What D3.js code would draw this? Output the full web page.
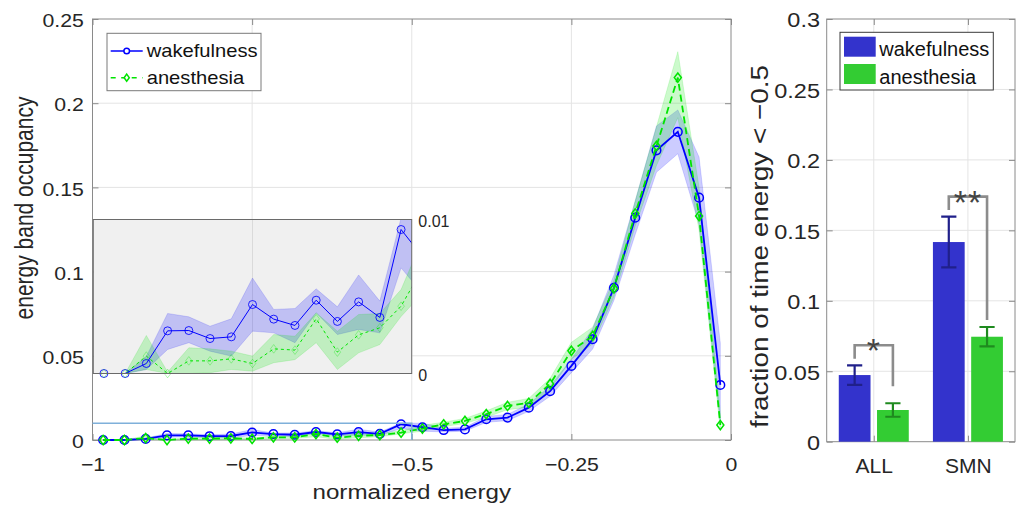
<!DOCTYPE html>
<html><head><meta charset="utf-8">
<script src="https://cdn.jsdelivr.net/npm/d3@7/dist/d3.min.js"></script>
<style>
body{margin:0;background:#fff;}
svg{display:block;}
</style></head><body>
<svg id="chart" width="1022" height="505"></svg>
<script>
// ---------------- data ----------------
const energyBins = [-0.9833, -0.95, -0.9167, -0.8833, -0.85, -0.8167, -0.7833, -0.75, -0.7167, -0.6833,
  -0.65, -0.6167, -0.5833, -0.55, -0.5167, -0.4833, -0.45, -0.4167, -0.3833, -0.35,
  -0.3167, -0.2833, -0.25, -0.2167, -0.1833, -0.15, -0.1167, -0.0833, -0.05, -0.0167];
const wakeMean = [0, 0, 0.00065, 0.00277, 0.00279, 0.00227, 0.00238, 0.00448, 0.00353, 0.00312,
  0.00476, 0.00338, 0.00465, 0.00364, 0.00935, 0.0076, 0.0059, 0.0063, 0.0123, 0.0133,
  0.0192, 0.029, 0.044, 0.0598, 0.0904, 0.132, 0.172, 0.183, 0.1439, 0.0327];
const wakeLow = [0, 0, 0.00026, 0.00156, 0.0020, 0.00145, 0.00113, 0.00275, 0.00264, 0.0020,
  0.00394, 0.00253, 0.00286, 0.00264, 0.00686, 0.0052, 0.0048, 0.0052, 0.0105, 0.0115,
  0.0170, 0.0260, 0.0400, 0.0540, 0.0830, 0.1220, 0.1590, 0.1700, 0.1280, 0.0100];
const wakeHigh = [0, 0, 0.0011, 0.0039, 0.00368, 0.00307, 0.00355, 0.0062, 0.00416, 0.00422,
  0.0055, 0.00433, 0.0064, 0.0047, 0.0101, 0.0100, 0.0070, 0.0075, 0.0140, 0.0152,
  0.0214, 0.0320, 0.0480, 0.0660, 0.0980, 0.1420, 0.1865, 0.1960, 0.1680, 0.0575];
const anesMean = [0, 0, 0.00113, 0, 0.00082, 0.00082, 0.00095, 0.00065, 0.0016, 0.00152,
  0.00355, 0.00139, 0.00251, 0.00297, 0.00437, 0.0068, 0.0093, 0.0113, 0.0154, 0.0202,
  0.0221, 0.0333, 0.053, 0.0618, 0.090, 0.1345, 0.1746, 0.2152, 0.133, 0.0089];
const anesLow = [0, 0, 0.00026, 0, 0, 0.00005, 0.00026, 0.00015, 0.0007, 0.0009,
  0.0020, 0.00026, 0.00134, 0.00188, 0.0037, 0.0052, 0.0080, 0.0098, 0.0135, 0.0180,
  0.0195, 0.0300, 0.0480, 0.0570, 0.0850, 0.1270, 0.1630, 0.1914, 0.1247, 0.0060];
const anesHigh = [0, 0, 0.00247, 0.0001, 0.00167, 0.0016, 0.00145, 0.00113, 0.00253, 0.00242,
  0.00394, 0.00275, 0.00383, 0.0039, 0.00545, 0.0087, 0.0106, 0.0128, 0.0173, 0.0224,
  0.0247, 0.0366, 0.0580, 0.0670, 0.0950, 0.1420, 0.1860, 0.2306, 0.1500, 0.0160];

const seriesNames = ["wakefulness", "anesthesia"];
const mainXTicks = [-1, -0.75, -0.5, -0.25, 0];
const mainYTicks = [0, 0.05, 0.1, 0.15, 0.2, 0.25];
const insetXDomain = [-1, -0.5];
const insetYTicks = [0, 0.01];

const groups = ["ALL", "SMN"];
const barWakeMean = [0.0473, 0.1417];
const barWakeSem = [0.0069, 0.0180];
const barAnesMean = [0.0225, 0.0745];
const barAnesSem = [0.0048, 0.0069];
const sigLabels = ["*", "**"];
const barYTicks = [0, 0.05, 0.1, 0.15, 0.2, 0.25, 0.3];

// ---------------- style ----------------
const FONT = '"Liberation Sans", Arial, Helvetica, sans-serif';
const C = {wake: "#0000ff", anes: "#00e400", axis: "#8a8a8a", text: "#262626", grid: "#e4e4e4",
  barWake: "#3333cc", barAnes: "#33cc33", errWake: "#20208a", errAnes: "#1f8a1f"};
const SX = 1.15;
const fmtNum = d => d < 0 ? "\u2212" + String(Math.abs(d)) : String(d);

const svg = d3.select("#chart").attr("font-family", FONT);

// ---------------- main plot ----------------
const xM = d3.scaleLinear().domain([-1, 0]).range([92.5, 731]);
const yM = d3.scaleLinear().domain([0, 0.25]).range([440, 19]);

function styleAxis(sel, fs) {
  sel.attr("font-family", FONT).attr("font-size", fs);
  sel.select(".domain").remove();
  sel.selectAll(".tick line").attr("stroke", C.axis);
  sel.selectAll(".tick text").attr("fill", C.text);
}

const gM = svg.append("g");
gM.append("g").selectAll("line").data(mainXTicks.slice(1, -1)).join("line")
  .attr("x1", d => xM(d)).attr("x2", d => xM(d)).attr("y1", yM(0)).attr("y2", yM(0.25))
  .attr("stroke", C.grid);
gM.append("g").selectAll("line").data(mainYTicks.slice(1, -1)).join("line")
  .attr("y1", d => yM(d)).attr("y2", d => yM(d)).attr("x1", xM(-1)).attr("x2", xM(0))
  .attr("stroke", C.grid);

const axMB = gM.append("g").attr("transform", `translate(0,${yM(0)})`)
  .call(d3.axisBottom(xM).tickValues(mainXTicks).tickSize(-6).tickSizeOuter(0).tickPadding(18.3).tickFormat(fmtNum));
styleAxis(axMB, 18.5);
axMB.selectAll(".tick text").attr("transform", `scale(${SX},1)`);
const axML = gM.append("g").attr("transform", `translate(${xM(-1)},0)`)
  .call(d3.axisLeft(yM).tickValues(mainYTicks).tickSize(-6).tickSizeOuter(0).tickPadding(8.7 / SX).tickFormat(fmtNum));
styleAxis(axML, 18.5);
axML.selectAll(".tick text").attr("dy", "0.42em").attr("transform", `scale(${SX},1)`);
const axMT = gM.append("g").attr("transform", `translate(0,${yM(0.25)})`)
  .call(d3.axisTop(xM).tickValues(mainXTicks).tickSize(-6).tickSizeOuter(0).tickFormat(""));
styleAxis(axMT, 10);
const axMR = gM.append("g").attr("transform", `translate(${xM(0)},0)`)
  .call(d3.axisRight(yM).tickValues(mainYTicks).tickSize(-6).tickSizeOuter(0).tickFormat(""));
styleAxis(axMR, 10);
gM.append("rect").attr("x", xM(-1)).attr("y", yM(0.25)).attr("width", xM(0) - xM(-1))
  .attr("height", yM(0) - yM(0.25)).attr("fill", "none").attr("stroke", C.axis);

const series = [
  {name: seriesNames[0], mean: wakeMean, low: wakeLow, high: wakeHigh, color: C.wake, marker: "circle", dash: null},
  {name: seriesNames[1], mean: anesMean, low: anesLow, high: anesHigh, color: C.anes, marker: "diamond", dash: true}
];
const diamond = (w, h) => `M0,${-h}L${w},0L0,${h}L${-w},0Z`;

function drawBands(g, x, y) {
  series.forEach(s => {
    const area = d3.area().x((d, i) => x(energyBins[i])).y0((d, i) => y(s.low[i])).y1((d, i) => y(s.high[i]));
    g.append("path").datum(s.mean).attr("d", area).attr("fill", s.color).attr("fill-opacity", 0.2)
      .attr("stroke", s.color).attr("stroke-opacity", 0.18).attr("stroke-width", 0.8);
  });
}
function drawLine(g, x, y, s, lw, dash) {
  const line = d3.line().x((d, i) => x(energyBins[i])).y(d => y(d));
  g.append("path").datum(s.mean).attr("d", line).attr("fill", "none").attr("stroke", s.color)
    .attr("stroke-width", lw).attr("stroke-dasharray", s.dash ? dash : null);
}
function drawMarkers(g, x, y, s, r, lw, op, filter) {
  const pts = s.mean.map((v, i) => [energyBins[i], v]).filter(filter || (() => true));
  if (s.marker === "circle") {
    g.append("g").selectAll("circle").data(pts).join("circle")
      .attr("cx", d => x(d[0])).attr("cy", d => y(d[1])).attr("r", r)
      .attr("fill", "none").attr("stroke", s.color).attr("stroke-width", lw).attr("stroke-opacity", op);
  } else {
    g.append("g").selectAll("path").data(pts).join("path")
      .attr("transform", d => `translate(${x(d[0])},${y(d[1])})`).attr("d", diamond(r * 0.82, r * 1.08))
      .attr("fill", "none").attr("stroke", s.color).attr("stroke-width", lw).attr("stroke-opacity", op);
  }
}

const gData = gM.append("g");
drawBands(gData, xM, yM);
series.forEach(s => { drawLine(gData, xM, yM, s, 1.8, "7,4"); drawMarkers(gData, xM, yM, s, 4.3, 1.5, 1); });

// zoom-region outline
gM.append("path")
  .attr("d", `M${xM(insetXDomain[0])},${yM(insetYTicks[1])}H${xM(insetXDomain[1])}V${yM(0)}`)
  .attr("fill", "none").attr("stroke", "#7fb0da").attr("stroke-width", 1.5);

// ---------------- inset ----------------
const xI = d3.scaleLinear().domain(insetXDomain).range([93.3, 411.7]);
const yI = d3.scaleLinear().domain([insetYTicks[0], insetYTicks[1]]).range([373.5, 219.5]);
const gI = svg.append("g");
gI.append("rect").attr("x", xI(-1)).attr("y", yI(0.01)).attr("width", xI(-0.5) - xI(-1))
  .attr("height", yI(0) - yI(0.01)).attr("fill", "#f0f0f0");
gI.append("line").attr("x1", xI(-0.75)).attr("x2", xI(-0.75)).attr("y1", yI(0)).attr("y2", yI(0.01))
  .attr("stroke", "#dadada");
svg.append("clipPath").attr("id", "insetClip").append("rect")
  .attr("x", xI(-1)).attr("y", yI(0.01)).attr("width", xI(-0.5) - xI(-1)).attr("height", yI(0) - yI(0.01));
const gIc = gI.append("g").attr("clip-path", "url(#insetClip)");
drawBands(gIc, xI, yI);
series.forEach(s => drawLine(gIc, xI, yI, s, 1, "3,3"));
const inDom = d => d[0] <= -0.5 && d[1] <= 0.01;
drawMarkers(gI, xI, yI, series[0], 4, 1, 0.85, inDom);
drawMarkers(gI, xI, yI, series[1], 4, 1, 0.3, inDom);
gI.append("rect").attr("x", xI(-1)).attr("y", yI(0.01)).attr("width", xI(-0.5) - xI(-1))
  .attr("height", yI(0) - yI(0.01)).attr("fill", "none").attr("stroke", "#6a6a6a");
const axIR = gI.append("g").attr("transform", `translate(${xI(-0.5)},0)`)
  .call(d3.axisRight(yI).tickValues(insetYTicks).tickSize(0).tickPadding(6.6).tickFormat(fmtNum));
styleAxis(axIR, 16);
axIR.selectAll(".tick text").attr("dy", "0.45em");

// ---------------- main legend ----------------
const gL = svg.append("g");
gL.append("rect").attr("x", 107).attr("y", 33.3).attr("width", 154).attr("height", 57.4)
  .attr("fill", "#fff").attr("stroke", "#7a7a7a");
series.forEach((s, i) => {
  const ly = 51 + i * 26.7;
  gL.append("line").attr("x1", 110.7).attr("x2", 142.7).attr("y1", ly).attr("y2", ly)
    .attr("stroke", s.color).attr("stroke-width", 1.5).attr("stroke-dasharray", s.dash ? "5,5.5" : null);
  if (s.marker === "circle") {
    gL.append("circle").attr("cx", 126.7).attr("cy", ly).attr("r", 2.8).attr("fill", "#fff")
      .attr("stroke", s.color).attr("stroke-width", 1.5);
  } else {
    gL.append("path").attr("transform", `translate(126.7,${ly})`).attr("d", diamond(2.6, 3.6))
      .attr("fill", "#fff").attr("stroke", s.color).attr("stroke-width", 1.5);
  }
  gL.append("text").attr("transform", `translate(146.7,${ly + 5.9}) scale(1.12,1)`)
    .attr("font-size", 18).attr("fill", "#111").text(s.name);
});

// axis titles (main)
svg.append("text").attr("transform", `translate(${xM(-0.5)},499) scale(${SX},1)`)
  .attr("text-anchor", "middle").attr("font-size", 21).attr("fill", C.text).text("normalized energy");
svg.append("text").attr("transform", `translate(33.3,208) rotate(-90) scale(1,1.2)`)
  .attr("text-anchor", "middle").attr("font-size", 21).attr("fill", C.text).text("energy band occupancy");

// ---------------- bar chart ----------------
const yB = d3.scaleLinear().domain([0, 0.3]).range([441.7, 19]);
const xB = d3.scalePoint().domain(groups).range([826.7, 1015]).padding(0.5);
const xSub = d3.scaleBand().domain(seriesNames).range([-35, 35]).paddingInner(0.17);
const gB = svg.append("g");
gB.append("g").selectAll("line").data(groups).join("line")
  .attr("x1", d => xB(d)).attr("x2", d => xB(d)).attr("y1", yB(0)).attr("y2", yB(0.3)).attr("stroke", C.grid);
gB.append("g").selectAll("line").data(barYTicks.slice(1, -1)).join("line")
  .attr("y1", d => yB(d)).attr("y2", d => yB(d)).attr("x1", 826.7).attr("x2", 1015).attr("stroke", C.grid);

const axBB = gB.append("g").attr("transform", `translate(0,${yB(0)})`)
  .call(d3.axisBottom(xB).tickSize(-6).tickSizeOuter(0).tickPadding(16.6));
styleAxis(axBB, 21);
const axBL = gB.append("g").attr("transform", `translate(826.7,0)`)
  .call(d3.axisLeft(yB).tickValues(barYTicks).tickSize(-6).tickSizeOuter(0).tickPadding(6).tickFormat(fmtNum));
styleAxis(axBL, 21);
axBL.selectAll(".tick text").attr("dy", "0.37em").attr("transform", "scale(1.12,1)");
const axBT = gB.append("g").attr("transform", `translate(0,${yB(0.3)})`)
  .call(d3.axisTop(xB).tickSize(-6).tickSizeOuter(0).tickFormat(""));
styleAxis(axBT, 10);
const axBR = gB.append("g").attr("transform", `translate(1015,0)`)
  .call(d3.axisRight(yB).tickValues(barYTicks).tickSize(-6).tickSizeOuter(0).tickFormat(""));
styleAxis(axBR, 10);
gB.append("rect").attr("x", 826.7).attr("y", yB(0.3)).attr("width", 1015 - 826.7)
  .attr("height", yB(0) - yB(0.3)).attr("fill", "none").attr("stroke", C.axis);

const barSeries = [
  {name: seriesNames[0], mean: barWakeMean, sem: barWakeSem, fill: C.barWake, err: C.errWake},
  {name: seriesNames[1], mean: barAnesMean, sem: barAnesSem, fill: C.barAnes, err: C.errAnes}
];
barSeries.forEach(s => {
  const gs = gB.append("g");
  gs.selectAll("rect").data(groups).join("rect")
    .attr("x", g => xB(g) + xSub(s.name)).attr("width", xSub.bandwidth())
    .attr("y", (g, i) => yB(s.mean[i])).attr("height", (g, i) => yB(0) - yB(s.mean[i]))
    .attr("fill", s.fill);
  groups.forEach((g, i) => {
    const cx = xB(g) + xSub(s.name) + xSub.bandwidth() / 2;
    const lo = yB(s.mean[i] - s.sem[i]), hi = yB(s.mean[i] + s.sem[i]);
    gs.append("path").attr("d", `M${cx},${lo}V${hi}M${cx - 7.6},${lo}H${cx + 7.6}M${cx - 7.6},${hi}H${cx + 7.6}`)
      .attr("stroke", s.err).attr("stroke-width", 2.2).attr("fill", "none");
  });
});

// significance brackets
const legDrop = [0.012, 0.005];
groups.forEach((g, i) => {
  const xl = xB(g) + xSub(seriesNames[0]) + xSub.bandwidth() / 2;
  const xr = xB(g) + xSub(seriesNames[1]) + xSub.bandwidth() / 2;
  const wTop = barWakeMean[i] + barWakeSem[i], aTop = barAnesMean[i] + barAnesSem[i];
  const top = Math.max(wTop, aTop) + 0.0142;
  gB.append("path").attr("d", `M${xl},${yB(wTop + 0.0047)}V${yB(top)}H${xr}V${yB(aTop + legDrop[i])}`)
    .attr("fill", "none").attr("stroke", "#8c8c8c").attr("stroke-width", 2.6);
  gB.append("text").attr("x", (xl + xr) / 2).attr("y", yB(top) + 17).attr("text-anchor", "middle")
    .attr("font-size", 34).attr("fill", "#444").attr("letter-spacing", 1).text(sigLabels[i]);
});

// bar legend
const gBL = svg.append("g");
gBL.append("rect").attr("x", 840).attr("y", 32.3).attr("width", 153.3).attr("height", 57.7)
  .attr("fill", "#fff").attr("stroke", "#3a3a3a");
barSeries.forEach((s, i) => {
  const top = 36.7 + i * 27.3;
  gBL.append("rect").attr("x", 844).attr("y", top).attr("width", 31.7).attr("height", 20).attr("fill", s.fill);
  gBL.append("text").attr("x", 879.3).attr("y", top + 19.5).attr("font-size", 20).attr("fill", "#111").text(s.name);
});

svg.append("text").attr("transform", `translate(768,246.5) rotate(-90) scale(1.14,1)`)
  .attr("text-anchor", "middle").attr("font-size", 24.5).attr("fill", C.text)
  .text("fraction of time energy < \u22120.5");
</script>
</body></html>
